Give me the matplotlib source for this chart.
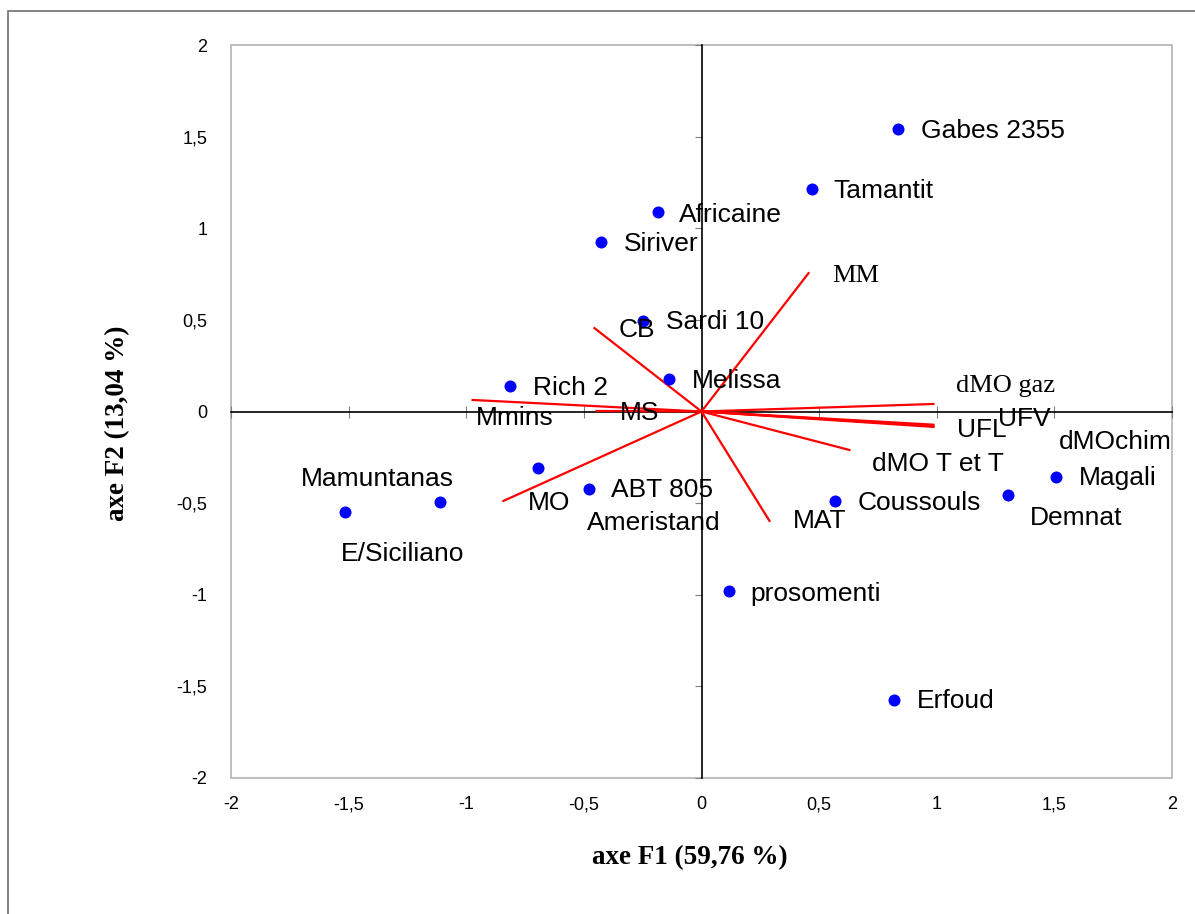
import numpy as np
import matplotlib
matplotlib.use('Agg')
import matplotlib.pyplot as plt
from matplotlib.patches import Rectangle

plt.rcParams['font.family'] = ['Liberation Sans', 'DejaVu Sans']

# individus (coordonnees F1, F2)
ind_x = [0.834, 0.468, -0.187, -0.426, -0.247, -0.140, -0.813, -1.515, -1.111,
         -0.694, -0.477, 0.566, 1.302, 1.506, 0.115, 0.817]
ind_y = [1.541, 1.213, 1.087, 0.923, 0.492, 0.175, 0.137, -0.546, -0.492,
         -0.311, -0.421, -0.486, -0.454, -0.355, -0.978, -1.574]

# etiquettes des individus (texte, x, y, alignement)
lab_txt = ['Gabes 2355', 'Tamantit', 'Africaine', 'Siriver', 'Sardi 10', 'Melissa',
           'Rich 2', 'ABT 805', 'Ameristand', 'Mamuntanas', 'E/Siciliano',
           'Coussouls', 'Magali', 'Demnat', 'prosomenti', 'Erfoud']
lab_x = [0.931, 0.561, -0.094, -0.332, -0.149, -0.043, -0.718, -0.383, -0.489,
         -1.377, -1.271, 0.663, 1.603, 1.394, 0.208, 0.914]
lab_y = [1.530, 1.203, 1.072, 0.913, 0.488, 0.166, 0.128, -0.429, -0.609,
         -0.369, -0.778, -0.500, -0.363, -0.582, -0.996, -1.580]
lab_ha = ['left'] * 9 + ['center', 'center'] + ['left'] * 5

# variables (vecteurs)
var_names = ['MM', 'CB', 'Mmins', 'MS', 'MO', 'dMO gaz', 'UFV', 'UFL', 'dMOchim',
             'dMO T et T', 'MAT']
var_x = [0.455, -0.455, -0.973, -0.446, -0.842, 0.986, 0.986, 0.986, 0.986, 0.629, 0.289]
var_y = [0.755, 0.455, 0.063, 0.003, -0.488, 0.041, -0.072, -0.084, -0.078, -0.210, -0.597]
var_lx = [0.655, -0.276, -0.795, -0.264, -0.650, 1.292, 1.373, 1.190, 1.760, 1.003, 0.502]
var_ly = [0.739, 0.444, -0.036, -0.009, -0.500, 0.139, -0.041, -0.101, -0.167, -0.287, -0.598]
var_serif = ['MM', 'dMO gaz']

ticks = [-2, -1.5, -1, -0.5, 0, 0.5, 1, 1.5, 2]
tick_lbl = ['-2', '-1,5', '-1', '-0,5', '0', '0,5', '1', '1,5', '2']

fig = plt.figure(figsize=(11.95, 9.14), dpi=100)
ax = fig.add_axes([231/1195, 1 - 778/914, 941/1195, 733/914])
ax.set_xlim(-2, 2)
ax.set_ylim(-2, 2)

# axes passant par zero
for s in ['top', 'right']:
    ax.spines[s].set_visible(False)
ax.spines['left'].set_position('zero')
ax.spines['bottom'].set_position('zero')
ax.spines['left'].set_linewidth(1.2)
ax.spines['bottom'].set_linewidth(1.2)
ax.set_xticks(ticks)
ax.set_yticks(ticks)
ax.tick_params(axis='x', direction='inout', length=8, color='gray', labelbottom=False)
ax.tick_params(axis='y', direction='out', length=5, color='gray', labelleft=False)

# cadre gris
ax.add_patch(Rectangle((0, 0), 1, 1, transform=ax.transAxes, fill=False,
                       ec='#b3b3b3', lw=1.2, clip_on=False, zorder=1))

# etiquettes des graduations sur le bord
sx = ax.secondary_xaxis('bottom')
sx.set_xticks(ticks, tick_lbl)
sx.spines['bottom'].set_visible(False)
sx.tick_params(length=0, pad=13, labelsize=13)
sy = ax.secondary_yaxis('left')
sy.set_yticks(ticks, tick_lbl)
sy.spines['left'].set_visible(False)
sy.tick_params(length=0, pad=17, labelsize=13)

# vecteurs
for i in range(len(var_names)):
    ax.plot([0, var_x[i]], [0, var_y[i]], color='#ff0000', lw=1.6, zorder=3)
    fam = 'Liberation Serif' if var_names[i] in var_serif else 'Liberation Sans'
    ax.text(var_lx[i], var_ly[i], var_names[i], ha='center', va='center',
            fontsize=19, family=fam, zorder=5)

# individus
ax.scatter(ind_x, ind_y, s=75, color='#0000ff', zorder=4, linewidths=0)
for i in range(len(lab_txt)):
    ax.text(lab_x[i], lab_y[i], lab_txt[i], ha=lab_ha[i], va='center',
            fontsize=19, family='Liberation Sans', zorder=5)

fig.text(690/1195, 1 - 858/914, 'axe F1 (59,76 %)', ha='center', va='center',
         fontsize=19.5, family='Liberation Serif', weight='bold')
fig.text(118/1195, 1 - 423/914, 'axe F2 (13,04 %)', ha='center', va='center',
         rotation=90, fontsize=19.5, family='Liberation Serif', weight='bold')

# bordure de la figure
fig.patches.append(Rectangle((8/1195, -0.1), 1.2, 1 - 11/914 + 0.1,
                             transform=fig.transFigure, fill=False,
                             ec='#6e6e6e', lw=1.2))

fig.savefig('out.png', dpi=100)
